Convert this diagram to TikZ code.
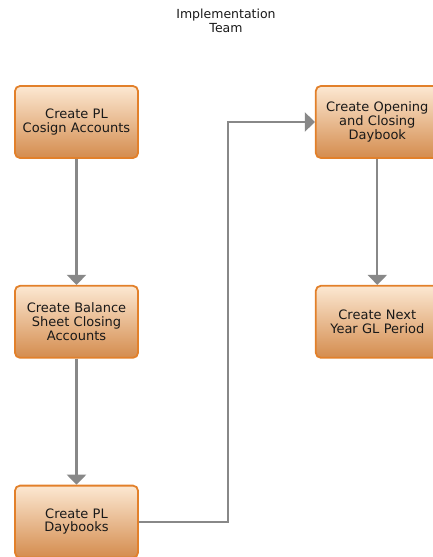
\documentclass[tikz,border=0pt]{standalone}
\usepackage{fontspec}
\setmainfont{DejaVu Sans}
\usetikzlibrary{arrows.meta,positioning}
\definecolor{boxtop}{RGB}{252,232,210}
\definecolor{boxbot}{RGB}{212,140,78}
\definecolor{boxedge}{RGB}{226,128,42}
\definecolor{linegray}{RGB}{136,136,136}

\begin{document}
\begin{tikzpicture}[
  x=1pt, y=-1pt,
  node distance=126pt and 176pt,
  box/.style={draw=boxedge, line width=1.8pt, rounded corners=5pt,
              top color=boxtop, bottom color=boxbot, minimum width=123pt,
              minimum height=72pt, text width=110pt, align=center,
              font=\fontsize{13}{13.8}\selectfont, text=black!90},
  arr/.style={-{Triangle[length=10pt,width=19pt]}, line width=2.2pt, draw=linegray, color=linegray}
]
\useasboundingbox (0,0) rectangle (433,557);
\node[font=\fontsize{12.5}{13.5}\selectfont, align=center, text=black!90] (team) at (226,21) {Implementation\\Team};
\node[box] (cosign) at (76.5,122) {Create PL\\Cosign Accounts};
\node[box, below=of cosign] (bsclose) {Create Balance\\Sheet Closing\\Accounts};
\node[box, below=of bsclose] (pldays) {Create PL\\Daybooks};
\node[box, right=of cosign] (openclose) {Create Opening\\and Closing\\Daybook};
\node[box, below=of openclose] (nextyear) {Create Next\\Year GL Period};
\draw[arr] (cosign)--(bsclose);
\draw[arr] (bsclose)--(pldays);
\draw[arr] (pldays.east) -- ++(89,0) |- (openclose.west);
\draw[arr] (openclose)--(nextyear);
\end{tikzpicture}
\end{document}
